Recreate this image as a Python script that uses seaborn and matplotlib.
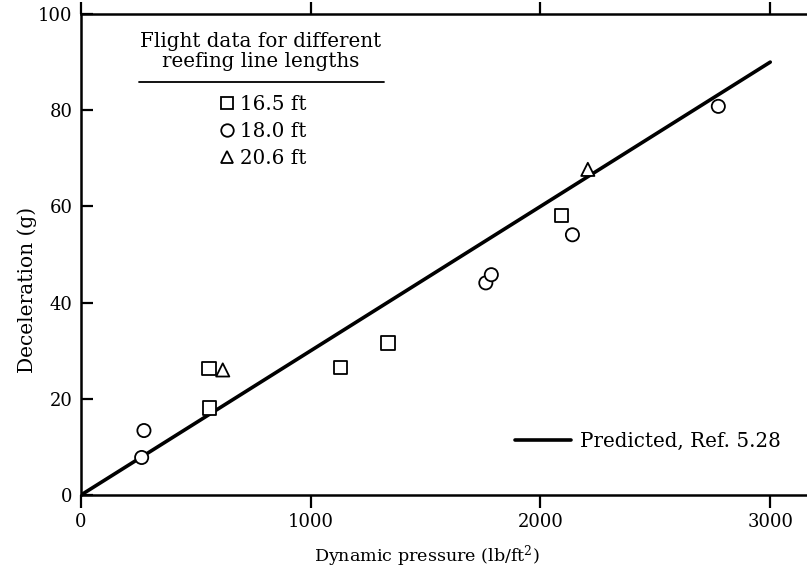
import numpy as np
import pandas as pd
import matplotlib
matplotlib.use("Agg")
import matplotlib.pyplot as plt
import seaborn as sns
from matplotlib.lines import Line2D

# ---- data ----
lengths = ["16.5 ft", "18.0 ft", "20.6 ft"]
sq_x = [557, 559, 1129, 1336, 2093]
sq_y = [26.3, 18.1, 26.5, 31.6, 58.1]
ci_x = [264, 274, 1762, 1786, 2139, 2774]
ci_y = [7.8, 13.4, 44.1, 45.8, 54.1, 80.8]
tr_x = [617, 2206]
tr_y = [26.0, 67.7]
pred_x = [0, 3000]
pred_y = [0, 90]
x_ticks = [0, 1000, 2000, 3000]
y_ticks = [0, 20, 40, 60, 80, 100]

df = pd.DataFrame({
    "q": sq_x + ci_x + tr_x,
    "g": sq_y + ci_y + tr_y,
    "length": [lengths[0]] * len(sq_x) + [lengths[1]] * len(ci_x) + [lengths[2]] * len(tr_x),
})
marker_map = {lengths[0]: "s", lengths[1]: "o", lengths[2]: "^"}

sns.set_theme(style="white")
plt.rcParams["font.family"] = ["DejaVu Serif"]
plt.rcParams["mathtext.fontset"] = "dejavuserif"
plt.rcParams["text.color"] = "black"
plt.rcParams["axes.labelcolor"] = "black"
plt.rcParams["xtick.color"] = "black"
plt.rcParams["ytick.color"] = "black"
FS_TICK = 13
FS_TXT = 14.3

fig = plt.figure(figsize=(8.07, 5.75), dpi=100)
ax = fig.add_axes([81 / 807, (575 - 495) / 575, (807 - 81) / 807, (495 - 14) / 575])

sns.lineplot(x=pred_x, y=pred_y, color="black", lw=2.6, ax=ax, legend=False)
sns.scatterplot(data=df, x="q", y="g", style="length", markers=marker_map,
                s=90, color="white", edgecolor="black", linewidth=1.3,
                ax=ax, legend=False, zorder=3)

ax.set_xlim(0, 3160)
ax.set_ylim(0, 100)
ax.set_xticks(x_ticks)
ax.set_xticklabels([str(v) for v in x_ticks])
ax.set_yticks(y_ticks)
ax.set_yticklabels([str(v) for v in y_ticks])

for s in ["left", "bottom", "top"]:
    ax.spines[s].set_visible(True)
    ax.spines[s].set_color("black")
    ax.spines[s].set_linewidth(1.8)
ax.spines["right"].set_visible(False)

ax.tick_params(axis="x", direction="out", length=9, width=1.6, top=True, bottom=True,
               labelsize=FS_TICK, pad=4)
ax.tick_params(axis="y", direction="in", length=8.5, width=1.6, left=True,
               labelsize=FS_TICK, pad=6)

ax.set_xlabel("Dynamic pressure (lb/ft$^2$)", fontsize=12.6)
ax.set_ylabel("Deceleration (g)", fontsize=14.5)
ax.xaxis.set_label_coords(0.476, -0.10)
ax.yaxis.set_label_coords(-0.06, 0.426)

# legend title + underline
ax.text(0.247, 0.962, "Flight data for different\nreefing line lengths", transform=ax.transAxes,
        ha="center", va="top", fontsize=FS_TXT, linespacing=1.05, multialignment="center")
ax.add_line(Line2D([0.08, 0.418], [0.859, 0.859], transform=ax.transAxes, color="black", lw=1.3))

handles = [Line2D([], [], ls="none", marker=marker_map[l], markersize=9, markerfacecolor="white",
                  markeredgecolor="black", markeredgewidth=1.3) for l in lengths]
leg1 = ax.legend(handles, lengths, loc="upper center", bbox_to_anchor=(0.251, 0.832),
                 frameon=False, fontsize=FS_TXT, handlelength=0.7, handletextpad=0.3,
                 labelspacing=0.4, borderpad=0, borderaxespad=0)
ax.add_artist(leg1)

pred_handle = Line2D([], [], color="black", lw=2.6)
ax.legend([pred_handle], ["Predicted, Ref. 5.28"], loc="center left",
          bbox_to_anchor=((515 - 81) / 726, (495 - 441) / 481), frameon=False, fontsize=FS_TXT,
          handlelength=2.8, handletextpad=0.45, borderpad=0, borderaxespad=0)

fig.savefig("out.png", dpi=100)
